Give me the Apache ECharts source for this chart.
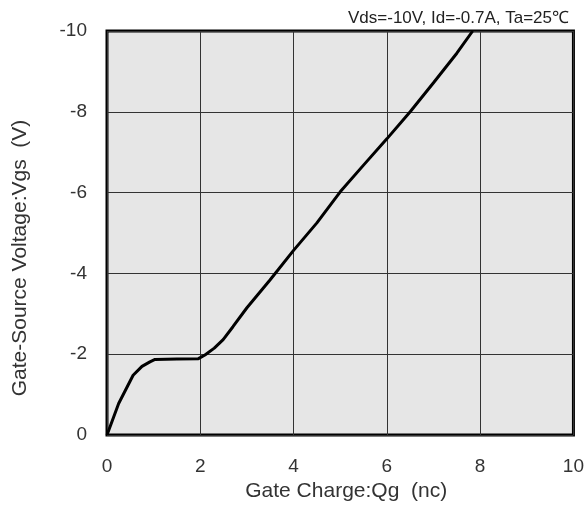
<!DOCTYPE html>
<html>
<head>
<meta charset="utf-8">
<script src="https://cdn.jsdelivr.net/npm/echarts@6/dist/echarts.min.js"></script>
<style>html,body{margin:0;padding:0;background:#fff;}#c{width:587px;height:522px;}</style>
</head>
<body>
<div id="c"></div>
<script>
// Gate charge Qg (nC) and gate-source voltage Vgs (V)
const qg  = [0, 0.25, 0.56, 0.75, 0.92, 1.03, 1.5, 1.96, 2.1, 2.3, 2.49, 2.7, 3.0, 3.49, 4.0, 4.5, 5.0, 5.5, 6.0, 6.5, 7.0, 7.5, 7.84];
const vgs = [0, -0.78, -1.48, -1.7, -1.81, -1.87, -1.88, -1.89, -1.98, -2.15, -2.36, -2.68, -3.15, -3.83, -4.57, -5.25, -6.02, -6.68, -7.33, -8.0, -8.72, -9.45, -10];
const xTicks = [0, 2, 4, 6, 8, 10];
const yTicks = [0, -2, -4, -6, -8, -10];
const condText = 'Vds=-10V, Id=-0.7A, Ta=25\u2103';
const xName = 'Gate Charge:Qg  (nc)';
const yName = 'Gate-Source Voltage:Vgs  (V)';

const chart = echarts.init(document.getElementById('c'), null, {renderer: 'canvas'});
const font = 'Liberation Sans, Arial, Helvetica, sans-serif';
chart.setOption({
  animation: false,
  backgroundColor: '#ffffff',
  grid: {left: 107, right: 13, top: 31, height: 404, show: true,
         backgroundColor: '#e6e6e6', borderColor: '#000', borderWidth: 3},
  title: {text: condText, right: 13, top: 5,
          textStyle: {fontSize: 17, fontWeight: 'normal', color: '#222', fontFamily: font}},
  xAxis: {
    type: 'value', min: xTicks[0], max: xTicks[xTicks.length - 1], interval: 2,
    name: xName, nameLocation: 'middle', nameGap: 30,
    nameTextStyle: {fontSize: 21, color: '#333', fontFamily: font, padding: [0, 0, 0, 12]},
    axisLine: {show: false}, axisTick: {show: false},
    axisLabel: {fontSize: 19, color: '#333', margin: 22, fontFamily: font},
    splitLine: {show: true, lineStyle: {color: '#333', width: 1}}
  },
  yAxis: {
    type: 'value', min: yTicks[yTicks.length - 1], max: yTicks[0], interval: 2, inverse: true,
    name: yName, nameLocation: 'middle', nameGap: 76,
    nameTextStyle: {fontSize: 21, color: '#333', fontFamily: font, padding: [0, 50, 0, 0]},
    axisLine: {show: false}, axisTick: {show: false},
    axisLabel: {fontSize: 19, color: '#333', margin: 20, fontFamily: font},
    splitLine: {show: true, lineStyle: {color: '#333', width: 1}}
  },
  series: [{
    type: 'line', data: qg.map((x, i) => [x, vgs[i]]),
    showSymbol: false, symbol: 'none',
    lineStyle: {color: '#000', width: 3}, z: 5
  }]
});
</script>
</body>
</html>
